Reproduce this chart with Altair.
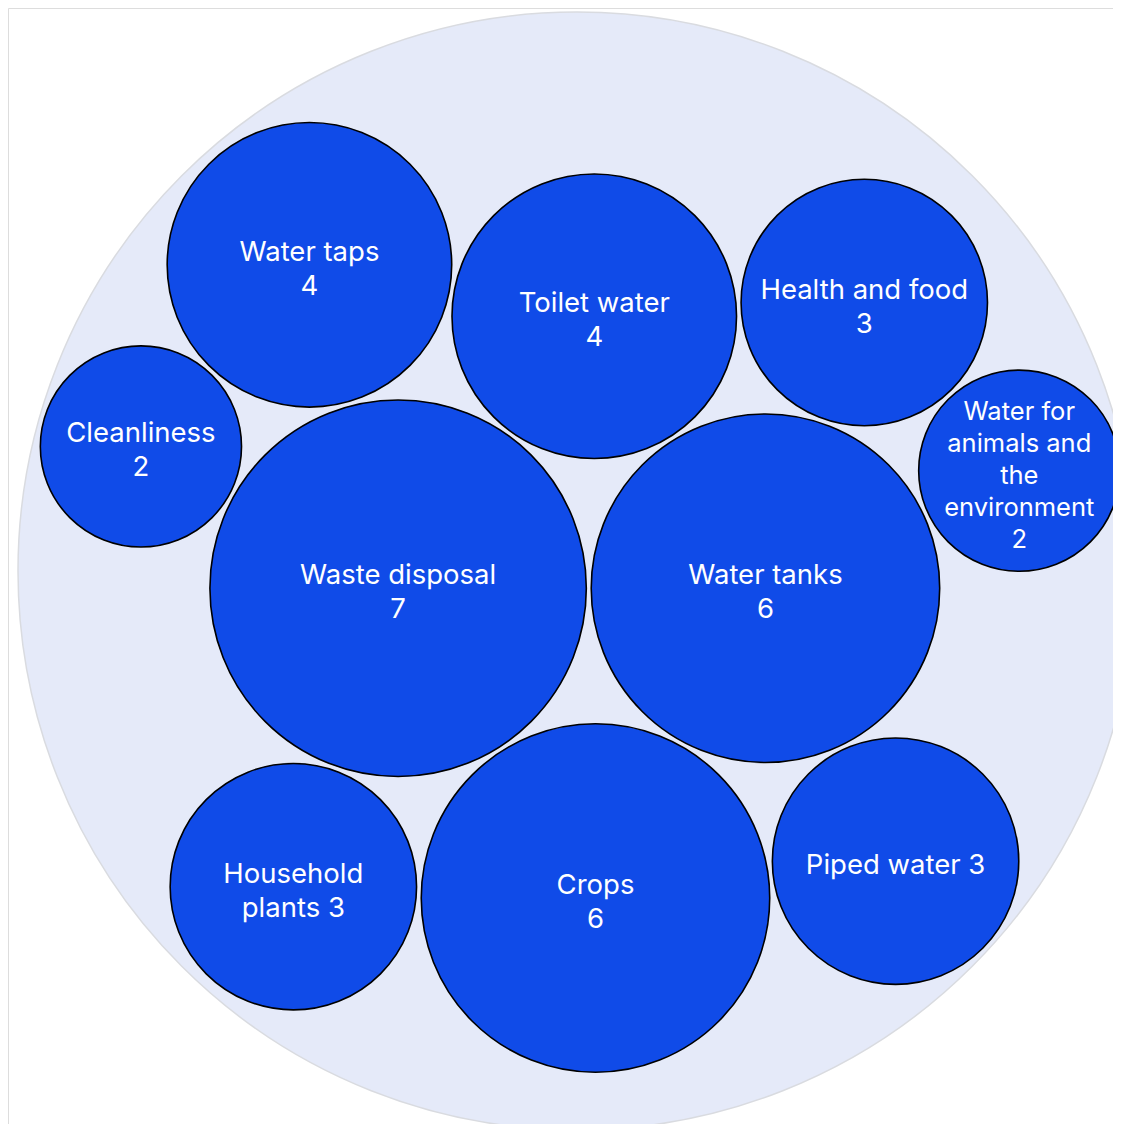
import math
import altair as alt
import pandas as pd

# ---- data ----
categories = [
    "Waste disposal", "Water tanks", "Crops", "Toilet water", "Water taps",
    "Household plants", "Health and food", "Piped water", "Cleanliness",
    "Water for animals and the environment",
]
values = [7, 6, 6, 4, 4, 3, 3, 3, 2, 2]
label_lines = [
    ["Waste disposal", "7"], ["Water tanks", "6"], ["Crops", "6"],
    ["Toilet water", "4"], ["Water taps", "4"], ["Household", "plants 3"],
    ["Health and food", "3"], ["Piped water 3"], ["Cleanliness", "2"],
    ["Water for", "animals and", "the", "environment", "2"],
]

# ---- d3.pack style circle packing (layout computation) ----
class C:
    def __init__(self, r):
        self.r = r
        self.x = 0.0
        self.y = 0.0


class Node:
    def __init__(self, c):
        self._ = c
        self.next = None
        self.previous = None


def place(b, a, c):
    dx = b.x - a.x
    dy = b.y - a.y
    d2 = dx * dx + dy * dy
    if d2:
        a2 = (a.r + c.r) ** 2
        b2 = (b.r + c.r) ** 2
        if a2 > b2:
            x = (d2 + b2 - a2) / (2 * d2)
            y = math.sqrt(max(0, b2 / d2 - x * x))
            c.x = b.x - x * dx - y * dy
            c.y = b.y - x * dy + y * dx
        else:
            x = (d2 + a2 - b2) / (2 * d2)
            y = math.sqrt(max(0, a2 / d2 - x * x))
            c.x = a.x + x * dx - y * dy
            c.y = a.y + x * dy + y * dx
    else:
        c.x = a.x + c.r
        c.y = a.y


def intersects(a, b):
    dr = a.r + b.r - 1e-6
    dx = b.x - a.x
    dy = b.y - a.y
    return dr > 0 and dr * dr > dx * dx + dy * dy


def score(node):
    a = node._
    b = node.next._
    ab = a.r + b.r
    dx = (a.x * b.r + b.x * a.r) / ab
    dy = (a.y * b.r + b.y * a.r) / ab
    return dx * dx + dy * dy


def encloses_weak(a, b):
    dr = a[2] - b[2] + max(a[2], b[2], 1) * 1e-9
    dx = b[0] - a[0]
    dy = b[1] - a[1]
    return dr > 0 and dr * dr > dx * dx + dy * dy


def basis2(a, b):
    x1, y1, r1 = a
    x2, y2, r2 = b
    x21, y21, r21 = x2 - x1, y2 - y1, r2 - r1
    l = math.sqrt(x21 * x21 + y21 * y21)
    return ((x1 + x2 + x21 / l * r21) / 2, (y1 + y2 + y21 / l * r21) / 2, (l + r1 + r2) / 2)


def basis3(a, b, c):
    x1, y1, r1 = a
    x2, y2, r2 = b
    x3, y3, r3 = c
    a2 = x1 - x2
    a3 = x1 - x3
    b2 = y1 - y2
    b3 = y1 - y3
    c2 = r2 - r1
    c3 = r3 - r1
    d1 = x1 * x1 + y1 * y1 - r1 * r1
    d2 = d1 - x2 * x2 - y2 * y2 + r2 * r2
    d3 = d1 - x3 * x3 - y3 * y3 + r3 * r3
    ab = a3 * b2 - a2 * b3
    xa = (b2 * d3 - b3 * d2) / (ab * 2) - x1
    xb = (b3 * c2 - b2 * c3) / ab
    ya = (a3 * d2 - a2 * d3) / (ab * 2) - y1
    yb = (a2 * c3 - a3 * c2) / ab
    A = xb * xb + yb * yb - 1
    B = 2 * (r1 + xa * xb + ya * yb)
    Cc = xa * xa + ya * ya - r1 * r1
    if abs(A) > 1e-6:
        r = -((B + math.sqrt(B * B - 4 * A * Cc)) / (2 * A))
    else:
        r = -(Cc / B)
    return (x1 + xa + xb * r, y1 + ya + yb * r, r)


def enclose(circs):
    cs = [(c.x, c.y, c.r) for c in circs]
    cands = list(cs)
    n = len(cs)
    for i in range(n):
        for j in range(i + 1, n):
            try:
                cands.append(basis2(cs[i], cs[j]))
            except Exception:
                pass
            for k in range(j + 1, n):
                try:
                    cands.append(basis3(cs[i], cs[j], cs[k]))
                except Exception:
                    pass
    best = None
    for cand in cands:
        if cand[2] <= 0:
            continue
        if all(encloses_weak(cand, c) for c in cs):
            if best is None or cand[2] < best[2]:
                best = cand
    return best


def pack_siblings(circles):
    n = len(circles)
    a = circles[0]
    a.x, a.y = 0.0, 0.0
    b = circles[1]
    a.x = -b.r
    b.x = a.r
    b.y = 0.0
    c = circles[2]
    place(b, a, c)
    a, b, c = Node(a), Node(b), Node(c)
    a.next = c.previous = b
    b.next = a.previous = c
    c.next = b.previous = a
    i = 3
    while i < n:
        cc = circles[i]
        place(a._, b._, cc)
        c = Node(cc)
        j = b.next
        k = a.previous
        sj = b._.r
        sk = a._.r
        restart = False
        while True:
            if sj <= sk:
                if intersects(j._, c._):
                    b = j
                    a.next = b
                    b.previous = a
                    restart = True
                    break
                sj += j._.r
                j = j.next
            else:
                if intersects(k._, c._):
                    a = k
                    a.next = b
                    b.previous = a
                    restart = True
                    break
                sk += k._.r
                k = k.previous
            if j is k.next:
                break
        if restart:
            continue
        c.previous = a
        c.next = b
        a.next = c
        b.previous = c
        b = c
        aa = score(a)
        c = c.next
        while c is not b:
            ca = score(c)
            if ca < aa:
                a = c
                aa = ca
            c = c.next
        b = a.next
        i += 1
    chain = [b._]
    c = b.next
    while c is not b:
        chain.append(c._)
        c = c.next
    e = enclose(chain)
    for cc in circles:
        cc.x -= e[0]
        cc.y -= e[1]
    return e[2]


# order children by value, descending (stable)
order = sorted(range(len(values)), key=lambda i: -values[i])
D = 1118.0
PADDING = 5.0
circles = [C(math.sqrt(values[i])) for i in order]
r0 = pack_siblings(circles)
rp = PADDING * r0 / D
for c in circles:
    c.r += rp
e1 = pack_siblings(circles)
for c in circles:
    c.r -= rp
root_r = e1 + rp
s = D / (2 * root_r)
for c in circles:
    c.x = D / 2 + s * c.x
    c.y = D / 2 + s * c.y
    c.r *= s

rows = [{"kind": "root", "x": D / 2, "y": D / 2, "r": D / 2, "label": "", "nlines": 0}]
for idx, c in zip(order, circles):
    rows.append({
        "kind": "leaf", "x": c.x, "y": c.y, "r": c.r,
        "label": "\n".join(label_lines[idx]),
        "nlines": len(label_lines[idx]),
        "category": categories[idx], "value": values[idx],
    })
df = pd.DataFrame(rows)

W, H = 1105, 1116
cx_plot, cy_plot = 569, 563
x0 = D / 2 - cx_plot
y0 = D / 2 - cy_plot

xenc = alt.X("x:Q", scale=alt.Scale(domain=[x0, x0 + W], nice=False, zero=False), axis=None)
yenc = alt.Y("y:Q", scale=alt.Scale(domain=[y0, y0 + H], nice=False, zero=False, reverse=True), axis=None)
senc = alt.Size("r:Q", scale=alt.Scale(type="pow", exponent=2, domain=[0, D / 2], range=[0, D * D]), legend=None)

base = alt.Chart(df)

outer = base.transform_filter(alt.datum.kind == "root").mark_circle(
    fill="#E5EAF9", stroke="#D9DBE0", strokeWidth=1.5, opacity=1
).encode(x=xenc, y=yenc, size=senc)

bubbles = base.transform_filter(alt.datum.kind == "leaf").mark_circle(
    fill="#104BE8", stroke="#000000", strokeWidth=1.6, opacity=1
).encode(x=xenc, y=yenc, size=senc, tooltip=["category:N", "value:Q"])

text_layers = []
for n in sorted(set(len(l) for l in label_lines)):
    lh = 32 if n > 2 else 34
    fs = 25.5 if n > 2 else 27.5
    text_layers.append(
        base.transform_filter((alt.datum.kind == "leaf") & (alt.datum.nlines == n)).mark_text(
            color="white", font="Inter", fontSize=fs, lineHeight=lh,
            align="center", baseline="middle", lineBreak="\n",
            dy=-(n - 1) / 2 * lh + 5
        ).encode(x=xenc, y=yenc, text="label:N")
    )

chart = alt.layer(outer, bubbles, *text_layers).properties(
    width=W, height=H, padding=0,
    autosize=alt.AutoSizeParams(type="none"),
).configure_view(stroke="transparent", strokeWidth=0).configure(background="white")

chart.save("out.html", embed_options={"renderer": "svg", "actions": False})
